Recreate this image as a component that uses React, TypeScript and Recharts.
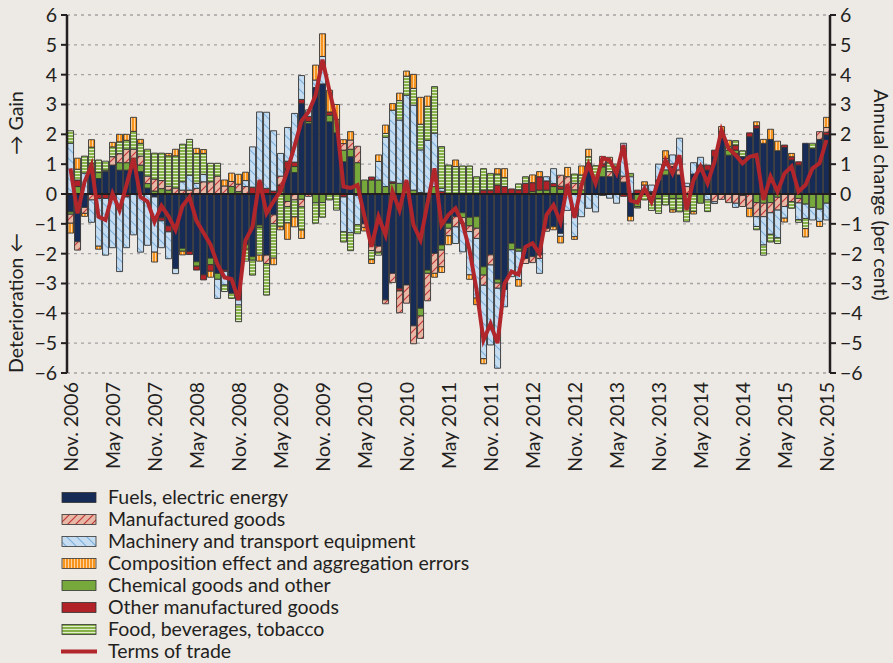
import React from 'react';
import { ComposedChart, Bar, Line, XAxis, YAxis, CartesianGrid, ReferenceLine } from 'recharts';

const MONTH_NAMES = ['Jan.', 'Feb.', 'Mar.', 'Apr.', 'May', 'June', 'July', 'Aug.', 'Sep.', 'Oct.', 'Nov.', 'Dec.'];
const START_YEAR = 2006;
const START_MONTH = 10; // November
const N_MONTHS = 109;
const CATEGORIES = Array.from({ length: N_MONTHS }, (_, i) => {
  const m = (START_MONTH + i) % 12;
  const y = START_YEAR + Math.floor((START_MONTH + i) / 12);
  return `${MONTH_NAMES[m]} ${y}`;
});

const Y_TICKS = [-6, -5, -4, -3, -2, -1, 0, 1, 2, 3, 4, 5, 6];

const FUELS = [-0.6, -1.6, -0.45, 0.8, 0.52, 0.75, 0.97, 0.8, 0.8, 0.95, 0.75, 0.2, -0.1, -0.8, -1.07, -2.5, -1.82, -1.93, -2.27, -2.71, -2.15, -2.66, -2.55, -3.33, -3.55, -1.7, -2.1, -1.04, -2.05, -0.7, 0, 0.85, 0.72, 3.04, 2.37, 3.57, 3.69, 2.42, 2.05, 1.08, 1.25, -0.05, -1.0, -1.71, -1.75, -3.55, -2.66, -3.16, -3.05, -4.42, -3.83, -2.55, -1.99, -1.71, -0.98, -0.76, -0.63, -0.78, -0.76, -2.44, -2.04, -2.86, -3.2, -1.65, -1.82, -2.16, -2.1, -2.04, -1.15, -1.1, -1.32, 0, 0, 0, 1.03, 0.55, 0.58, 0.58, 0.91, 0.4, -0.75, 0, 0, 0.05, 0.47, 0.64, 0.92, 0.64, 0, 0.67, 0.97, 0.8, 1.25, 2.1, 1.3, 1.36, 1.25, 1.92, 2.2, 1.7, 1.83, 1.45, 1.56, 1.14, 0.97, 1.7, 1.53, 1.83, 1.98];
const CHEMICAL = [-0.08, 0.25, 0, 0.22, 0.2, 0.05, 0, 0.25, 0.25, 0.25, 0.22, 0.15, 0.1, 0.18, 0.13, 0, -0.1, 0, -0.15, 0, -0.22, -0.2, 0, 0.25, 0.08, -0.15, -0.12, -0.08, 0, 0, 0.1, -0.25, 0.2, -0.18, 0.06, -0.3, -0.29, 0.22, 0.45, 0.39, 0.25, 1.05, 0.47, 0.47, 0.47, 0.25, 0.36, 0.36, 0.13, 0.13, -0.26, -0.11, 0.25, -0.17, -0.17, 0, -0.16, -0.29, -0.39, -0.28, 0, -0.13, 0, -0.22, -0.1, 0, 0.08, 0.13, 0.13, 0.25, 0.16, 0.15, 0.14, 0.14, 0, 0, 0.33, 0, 0, 0, 0, -0.42, 0, -0.2, -0.15, 0.17, -0.15, -0.15, 0, 0, -0.31, 0, 0, 0, 0.17, 0.11, 0, 0, -0.29, -0.31, -0.29, -0.11, 0, 0, -0.15, -0.34, -0.45, -0.51, -0.31];
const OTHER_MFG = [0, 0.22, 0, 0, -0.15, -0.15, -0.1, 0, -0.1, 0, 0, 0, 0, -0.1, -0.2, 0, 0, -0.1, -0.13, -0.17, -0.22, 0, -0.05, 0, 0, 0, 0.23, 0.1, 0.19, 0.1, 0.2, 0.25, 0.15, 0.13, 0.17, 0, 0, 0.11, 0, -0.1, 0, 0, 0, 0.1, 0, 0, 0.05, -0.09, 0.11, 0, 0.05, 0.03, 0, 0.09, 0, 0, 0, 0, 0, 0.13, 0.13, 0.3, 0.25, 0.17, 0.14, 0.36, 0.3, 0.45, 0.31, 0.1, 0.1, 0, 0, 0, 0, 0, 0.1, 0, 0, -0.08, 0, 0.13, 0, 0.03, 0, 0, 0, 0, 0, 0, 0, 0.17, 0.22, 0, 0, 0.17, -0.05, 0.13, 0.09, 0, 0, 0, 0.08, 0.11, 0.11, 0, 0, 0, 0.09];
const MANUFACTURED = [-0.3, -0.28, -0.2, -0.2, 0, 0, 0.28, 0.3, 0.45, 0.3, 0.3, 0.25, 0.4, 0.27, 0.13, 0.2, 0.13, 0.13, 0.19, 0.41, 0.41, 0.6, 0.27, 0.17, 0.25, 0.25, 0, 0, -0.28, -0.3, 0.3, -0.17, -0.2, -0.25, -0.08, 0, 0, 0, 0, 0.22, 0.31, 0.55, -0.12, -0.19, -0.2, -0.13, -0.31, -0.73, -0.61, -0.6, -0.75, -0.92, -0.67, -0.56, -0.25, -0.34, -0.2, -0.19, -0.34, -0.34, -0.34, -0.17, 0, 0, 0, -0.17, -0.2, -0.12, -0.1, 0, 0.37, 0.43, 0.22, 0.22, 0, 0, 0.25, 0.17, 0, 0.2, 0, 0, 0.13, 0, 0, 0, 0.09, 0.17, 0.25, 0, 0, 0, -0.26, -0.18, -0.29, -0.31, -0.37, -0.48, -0.47, -0.45, -0.34, -0.43, -0.42, -0.26, -0.15, 0, 0, 0.26, 0.16];
const MACHINERY = [1.7, 0, 0.7, -0.75, -1.6, -1.9, -1.7, -2.6, -1.7, -1.37, -1.95, -1.72, -1.85, -0.9, -0.9, -0.17, 0.28, 0.5, 0.17, 0.25, 0, -0.64, -0.45, 0, -0.17, 0.2, 1.35, 2.65, 2.55, 2.02, 0.76, 1.13, 1.63, 0.8, 0.22, 0.25, 0.92, 0, 0, -1.17, -1.3, -0.98, 0, 0, 0.62, 1.65, 2.4, 2.12, 3.07, 2.85, 1.43, 1.77, 1.79, 0.1, 0, -0.56, -0.95, -1.45, -2.0, -2.46, -2.68, -2.68, -0.58, -0.9, -0.95, 0, 0, -0.5, 0.14, 0.5, -0.1, -0.55, -1.43, -0.76, -0.48, -0.6, -0.05, -0.14, -0.31, 1.1, 0.58, 0, 0.17, 0.22, 0.53, 0.38, 0.3, 1.06, 0.11, 0.38, 0.26, -0.2, -0.06, 0, 0, -0.14, 0, 0, -0.33, -0.95, -0.72, -0.93, -0.39, 0, -0.56, -0.48, -0.42, -0.41, -0.56];
const FOOD = [0.42, 0.36, 0.57, 0.55, 0.42, 0.3, 0.33, 0.4, 0.3, 0.6, 0.43, 0.9, 0.87, 0.92, 1.02, 1.08, 1.26, 1.2, 1.0, 0.7, 0.62, 0.43, -0.22, -0.17, -0.56, -0.4, -0.5, -0.93, -1.06, -1.15, -1.1, -0.55, -0.57, -0.78, 0, -0.68, -0.49, -0.2, -0.54, -0.34, -0.6, -0.3, 0, -0.3, -0.1, 0.13, 0, 0.65, 0.64, 0.56, 0.86, 1.14, 1.56, 1.4, 0.97, 0.92, 0.94, 0.94, 0.58, 0.72, 0.56, 0.37, 0.3, 0, 0.2, 0.22, 0, 0, 0, 0, 0, 0, 0.31, 0.28, 0.22, 0.4, 0, 0.3, 0.09, 0, 0.11, -0.05, -0.2, -0.35, -0.5, -0.37, -0.38, -0.45, -0.93, -0.59, 0, -0.39, 0, 0, 0.13, 0.15, 0.2, 0, -0.11, -0.34, -0.26, -0.19, 0, -0.22, -0.09, -0.34, 0.17, 0, 0];
const COMPOSITION = [-0.33, 0.37, -0.1, 0.25, -0.1, 0, 0.15, 0.25, 0.2, 0.47, 0.13, 0, -0.33, 0, 0.08, 0.22, -0.12, 0, 0.17, 0.13, -0.2, 0, 0.2, 0.28, 0.33, 0.28, 0, -0.2, 0, -0.22, -0.1, -0.55, -0.33, -0.28, 0, 0.5, 0.76, 0.73, 0.5, 0.13, 0.28, 0, -0.12, -0.13, 0.22, 0.28, 0.22, 0.25, 0.17, 0.47, 0.9, 0.34, -0.13, -0.19, -0.3, 0.22, 0, -0.15, -0.22, -0.17, 0, 0.18, 0.3, 0, -0.22, 0, 0.26, 0.17, 0, -0.1, -0.22, 0.31, -0.09, 0.3, 0.25, 0, 0, 0.18, 0, 0, -0.15, 0, 0.11, 0, 0, 0.26, -0.08, 0, 0, -0.08, 0, 0, 0, 0.16, 0.2, 0, 0, -0.28, 0.13, 0.13, 0.34, 0.32, -0.13, 0.11, 0, -0.28, 0, -0.17, 0.34];
const TERMS_OF_TRADE = [0.86, -0.65, 0.4, 0.97, -0.76, -0.87, 0.02, -0.54, 0.3, 1.2, -0.1, -0.25, -0.93, -0.4, -0.75, -1.2, -0.4, -0.1, -0.9, -1.3, -1.7, -2.35, -2.8, -2.85, -3.55, -1.55, -1.1, 0.47, -0.65, -0.25, 0.1, 0.8, 1.6, 2.45, 2.75, 3.3, 4.5, 3.45, 2.45, 0.25, 0.2, 0.3, -0.76, -1.77, -0.76, -1.37, 0.08, -0.54, 0.47, -1.04, -1.54, -0.31, 0.86, -1.04, -0.7, -0.48, -0.98, -1.88, -3.2, -4.9, -4.35, -5.0, -3.0, -2.6, -2.7, -1.77, -1.65, -2.0, -0.7, -0.37, -0.95, 0.33, -0.8, 0.3, 1.0, 0.36, 1.2, 1.14, 0.69, 1.64, -0.22, -0.29, 0.19, -0.26, 0.47, 1.14, 0.69, 1.3, -0.54, 0.47, 0.92, 0.36, 1.08, 2.14, 1.53, 1.31, 1.03, 1.25, 1.31, -0.2, 0.58, 0.08, 0.69, 0.92, 0.08, 0.3, 0.86, 1.03, 1.81];

const DATA = CATEGORIES.map((month, i) => ({
  month,
  fuels: FUELS[i],
  chemical: CHEMICAL[i],
  otherMfg: OTHER_MFG[i],
  manufactured: MANUFACTURED[i],
  machinery: MACHINERY[i],
  food: FOOD[i],
  composition: COMPOSITION[i],
  tot: TERMS_OF_TRADE[i],
}));

const BG = '#EDE9E5';
const TEXT = '#231f20';
const FONT = "Lato, 'Open Sans', sans-serif";
const FS = 19.5;
const EDGE = '#333333';

// stacking order (from zero outward)
const STACK = [
  { key: 'fuels', fill: '#172B57' },
  { key: 'chemical', fill: '#77A83C' },
  { key: 'otherMfg', fill: '#B02228' },
  { key: 'manufactured', fill: 'url(#patManuf)' },
  { key: 'machinery', fill: 'url(#patMach)' },
  { key: 'food', fill: 'url(#patFood)' },
  { key: 'composition', fill: 'url(#patComp)' },
];

const LEGEND = [
  { label: 'Fuels, electric energy', fill: '#172B57' },
  { label: 'Manufactured goods', fill: 'url(#patManuf)' },
  { label: 'Machinery and transport equipment', fill: 'url(#patMach)' },
  { label: 'Composition effect and aggregation errors', fill: 'url(#patComp)' },
  { label: 'Chemical goods and other', fill: '#77A83C' },
  { label: 'Other manufactured goods', fill: '#B02228' },
  { label: 'Food, beverages, tobacco', fill: 'url(#patFood)' },
  { label: 'Terms of trade', line: '#B0262B' },
];

const fmt = (v: number) => (v < 0 ? `\u2212${-v}` : `${v}`);

const XTick = (props: any) => {
  const { x, payload } = props;
  return (
    <text
      transform={`translate(${x},382) rotate(-90)`}
      textAnchor="end"
      dy="0.36em"
      fontSize={FS}
      fontFamily={FONT}
      fill={TEXT}
    >
      {payload.value}
    </text>
  );
};

const Patterns = () => (
  <svg width={0} height={0} style={{ position: 'absolute' }}>
    <defs>
      <pattern id="patManuf" patternUnits="userSpaceOnUse" width={8} height={8}>
        <rect width={8} height={8} fill="#E8B8A6" />
        <path d="M-2,2 L2,-2 M0,8 L8,0 M6,10 L10,6" stroke="#C4373A" strokeWidth={1.2} />
      </pattern>
      <pattern id="patMach" patternUnits="userSpaceOnUse" width={10} height={10}>
        <rect width={10} height={10} fill="#C6DDF1" />
        <path d="M-2,8 L2,12 M0,0 L10,10 M8,-2 L12,2" stroke="#7DB1DD" strokeWidth={1.2} />
      </pattern>
      <pattern id="patComp" patternUnits="userSpaceOnUse" width={3} height={3}>
        <rect width={3} height={3} fill="#F7941E" />
        <rect x={2} width={1} height={3} fill="#FCD3A0" />
      </pattern>
      <pattern id="patFood" patternUnits="userSpaceOnUse" width={3} height={3}>
        <rect width={3} height={3} fill="#87B24A" />
        <rect y={2} width={3} height={1} fill="#E2ECCF" />
      </pattern>
    </defs>
  </svg>
);

export default function App() {
  return (
    <div style={{ position: 'absolute', left: 0, top: 0, width: 893, height: 663, background: BG, overflow: 'hidden' }}>
      <Patterns />
      <ComposedChart
        width={893}
        height={490}
        data={DATA}
        stackOffset="sign"
        barCategoryGap="8%"
        margin={{ top: 15, right: 0, bottom: 0, left: 0 }}
      >
        <CartesianGrid yAxisId="left" vertical={false} stroke="#a3a3a3" strokeDasharray="3 4" strokeWidth={1.3} />
        <XAxis
          dataKey="month"
          interval={5}
          height={117}
          axisLine={false}
          tickLine={false}
          tick={<XTick />}
        />
        <YAxis
          yAxisId="left"
          orientation="left"
          width={67}
          domain={[-6, 6]}
          ticks={Y_TICKS}
          interval={0}
          tickFormatter={fmt}
          tickSize={6}
          tickMargin={4}
          axisLine={{ stroke: TEXT, strokeWidth: 2.5 }}
          tickLine={{ stroke: TEXT, strokeWidth: 2 }}
          tick={{ fontSize: FS, fontFamily: FONT, fill: TEXT }}
        />
        <YAxis
          yAxisId="right"
          orientation="right"
          width={63}
          domain={[-6, 6]}
          ticks={Y_TICKS}
          interval={0}
          tickFormatter={fmt}
          tickSize={6}
          tickMargin={4}
          axisLine={{ stroke: TEXT, strokeWidth: 2.5 }}
          tickLine={{ stroke: TEXT, strokeWidth: 2 }}
          tick={{ fontSize: FS, fontFamily: FONT, fill: TEXT }}
        />
        {STACK.map((s) => (
          <Bar
            key={s.key}
            dataKey={s.key}
            stackId="s"
            yAxisId="left"
            fill={s.fill}
            stroke={EDGE}
            strokeWidth={0.9}
            isAnimationActive={false}
          />
        ))}
        <ReferenceLine y={0} yAxisId="left" stroke={TEXT} strokeWidth={2} />
        <Line
          yAxisId="right"
          dataKey="tot"
          type="linear"
          stroke="#B0262B"
          strokeWidth={4}
          dot={false}
          activeDot={false}
          isAnimationActive={false}
        />
      </ComposedChart>

      <svg width={893} height={663} style={{ position: 'absolute', left: 0, top: 0, pointerEvents: 'none' }}>
        <text transform="translate(23,155) rotate(-90)" textAnchor="start" fontSize={FS} fontFamily={FONT} fill={TEXT}>
          {'\u2192 Gain'}
        </text>
        <text transform="translate(23,233) rotate(-90)" textAnchor="end" fontSize={FS} fontFamily={FONT} fill={TEXT}>
          {'Deterioration \u2190'}
        </text>
        <text transform="translate(874,195) rotate(90)" textAnchor="middle" fontSize={FS} fontFamily={FONT} fill={TEXT}>
          Annual change (per cent)
        </text>
        {LEGEND.map((item, k) => {
          const cy = 497.5 + k * 22;
          return (
            <g key={item.label}>
              {item.line ? (
                <line x1={61} x2={97} y1={cy} y2={cy} stroke={item.line} strokeWidth={4} />
              ) : (
                <rect x={62} y={cy - 5} width={34} height={10} fill={item.fill} stroke={EDGE} strokeWidth={0.8} />
              )}
              <text x={108} y={cy + 6.5} fontSize={FS} fontFamily={FONT} fill={TEXT}>
                {item.label}
              </text>
            </g>
          );
        })}
      </svg>
    </div>
  );
}
